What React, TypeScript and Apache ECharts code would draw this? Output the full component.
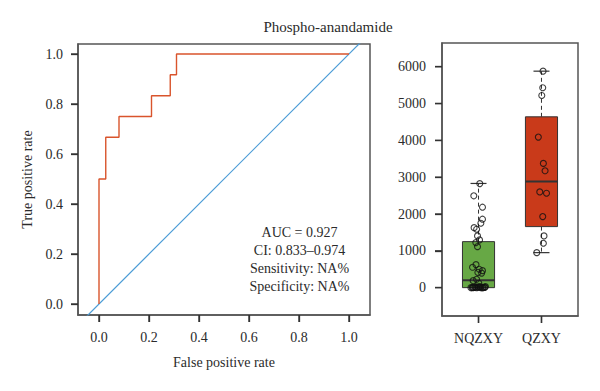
import React, { useEffect, useRef } from 'react';
import * as echarts from 'echarts';

// ROC curve (false positive rate, true positive rate)
const rocFpr = [0, 0, 0.027, 0.027, 0.08, 0.08, 0.21, 0.21, 0.285, 0.285, 0.31, 0.31, 1.0];
const rocTpr = [0, 0.5, 0.5, 0.667, 0.667, 0.75, 0.75, 0.833, 0.833, 0.917, 0.917, 1, 1];
const diagonal = [-1, 2];
const rocTicks = [0, 0.2, 0.4, 0.6, 0.8, 1.0];
const annotation = ['AUC = 0.927', 'CI: 0.833–0.974', 'Sensitivity: NA%', 'Specificity: NA%'];

// Box plot
const groups = ['NQZXY', 'QZXY'];
const boxMin = [0, 951];
const boxQ1 = [0, 1658];
const boxMedian = [200, 2880];
const boxQ3 = [1250, 4640];
const boxMax = [2830, 5880];
const valueTicks = [0, 1000, 2000, 3000, 4000, 5000, 6000];
const groupTicks = [1, 2];

const nqValues = [2826, 2495, 2185, 1859, 1750, 1630, 1587, 1405, 1296, 1223, 1114, 625, 554, 500, 462, 413, 395, 228, 190, 120,
  0, 5, 10, 0, 15, 20, 0, 8, 30, 0, 12, 25, 0, 3, 18, 0, 6];
const nqJitter = [0.02, -0.075, 0.063, 0.063, 0.037, -0.07, -0.03, -0.016, 0.016, -0.043, -0.016, -0.04, -0.095, 0.01, 0.063, -0.01, 0.05, -0.03, -0.085, 0.005,
  -0.12, -0.09, -0.06, -0.03, 0, 0.03, 0.06, 0.09, 0.11, -0.1, -0.05, 0.02, 0.07, -0.08, -0.01, 0.04, 0.1];
const qValues = [5880, 5430, 5220, 4090, 3375, 3175, 2600, 2565, 1930, 1405, 1206, 951];
const qJitter = [0.025, 0.02, 0.005, -0.05, 0.03, 0.057, -0.027, 0.08, 0.02, 0.04, 0.03, -0.075];

const boxColors = ['#67a845', '#c93a1a'];
const textColor = '#2b2b2b';
const font = '"Liberation Serif", "DejaVu Serif", serif';

export default function App() {
  const ref = useRef<HTMLDivElement>(null);
  useEffect(() => {
    if (!ref.current) return;
    const chart = echarts.init(ref.current, undefined, { renderer: 'svg' });
    const tick = { show: true, length: 7, lineStyle: { color: '#333', width: 1.3 } };
    const line = { show: true, onZero: false, lineStyle: { color: '#555', width: 1.5 } };
    const labelCommon = { color: textColor, fontSize: 14, fontFamily: font };
    const boxData = groups.map((_, i) => [i + 1, boxMin[i], boxQ1[i], boxMedian[i], boxQ3[i], boxMax[i]]);
    const pointData = [
      ...nqValues.map((v, i) => [1 + nqJitter[i], v]),
      ...qValues.map((v, i) => [2 + qJitter[i], v]),
    ];
    const textGraphics: any[] = [
      {
        type: 'text',
        style: { text: 'Phospho-anandamide', x: 328, y: 27, fill: textColor, font: `15px ${font}`, textAlign: 'center', textVerticalAlign: 'middle' },
      },
      ...annotation.map((t, i) => ({
        type: 'text',
        style: { text: t, x: 299.5, y: 232 + i * 18.3, fill: textColor, font: `14px ${font}`, textAlign: 'center', textVerticalAlign: 'middle' },
      })),
    ];
    const option: any = {
      animation: false,
      textStyle: { fontFamily: font },
      grid: [
        { left: 78, top: 44, width: 292, height: 271, show: true, borderColor: '#555', borderWidth: 1.5 },
        { left: 442, top: 43, width: 136, height: 273, show: true, borderColor: '#555', borderWidth: 1.5 },
      ],
      xAxis: [
        {
          type: 'value', gridIndex: 0, min: -0.084, max: 1.084, splitLine: { show: false }, axisLine: line,
          axisTick: { ...tick, customValues: rocTicks },
          axisLabel: { ...labelCommon, margin: 15, customValues: rocTicks, formatter: (v: number) => v.toFixed(1) },
          name: 'False positive rate', nameLocation: 'middle', nameGap: 40,
          nameTextStyle: { color: textColor, fontSize: 14, fontFamily: font },
        },
        {
          type: 'value', gridIndex: 1, min: 0.42, max: 2.58, splitLine: { show: false }, axisLine: line,
          axisTick: { ...tick, customValues: groupTicks },
          axisLabel: { ...labelCommon, margin: 15, customValues: groupTicks, formatter: (v: number) => groups[Math.round(v) - 1] },
        },
      ],
      yAxis: [
        {
          type: 'value', gridIndex: 0, min: -0.044, max: 1.04, splitLine: { show: false }, axisLine: line,
          axisTick: { ...tick, customValues: rocTicks },
          axisLabel: { ...labelCommon, margin: 15, customValues: rocTicks, formatter: (v: number) => v.toFixed(1) },
          name: 'True positive rate', nameLocation: 'middle', nameGap: 44, nameRotate: 90,
          nameTextStyle: { color: textColor, fontSize: 14, fontFamily: font },
        },
        {
          type: 'value', gridIndex: 1, min: -770, max: 6645, splitLine: { show: false }, axisLine: line,
          axisTick: { ...tick, customValues: valueTicks },
          axisLabel: { ...labelCommon, margin: 16, customValues: valueTicks, formatter: (v: number) => String(v) },
        },
      ],
      graphic: textGraphics,
      series: [
        {
          type: 'line', xAxisIndex: 0, yAxisIndex: 0, data: diagonal.map((v) => [v, v]),
          showSymbol: false, symbol: 'none', clip: true, lineStyle: { color: '#4b9cd6', width: 1.2 },
        },
        {
          type: 'line', xAxisIndex: 0, yAxisIndex: 0, data: rocFpr.map((f, i) => [f, rocTpr[i]]),
          showSymbol: false, symbol: 'none', clip: true, lineStyle: { color: '#d9542c', width: 1.4 },
        },
        {
          type: 'custom', xAxisIndex: 1, yAxisIndex: 1, data: boxData,
          encode: { x: 0, y: [1, 2, 3, 4, 5] }, z: 2,
          renderItem: (params: any, api: any) => {
            const x = api.value(0);
            const mn = api.value(1), q1 = api.value(2), md = api.value(3), q3 = api.value(4), mx = api.value(5);
            const hw = 0.255, cw = 0.127;
            const tl = api.coord([x - hw, q3]);
            const br = api.coord([x + hw, q1]);
            const c = api.coord([x, md]);
            const top = api.coord([x, mx]);
            const bot = api.coord([x, mn]);
            const capL = api.coord([x - cw, mx])[0];
            const capR = api.coord([x + cw, mx])[0];
            const dashed = { stroke: '#333', lineWidth: 1, lineDash: [4, 3] };
            const solid = { stroke: '#333', lineWidth: 1.2 };
            const ln = (x1: number, y1: number, x2: number, y2: number, style: any) => ({ type: 'line', shape: { x1, y1, x2, y2 }, style });
            return {
              type: 'group',
              children: [
                ln(c[0], tl[1], c[0], top[1], dashed),
                ln(c[0], br[1], c[0], bot[1], dashed),
                ln(capL, top[1], capR, top[1], solid),
                ln(capL, bot[1], capR, bot[1], solid),
                { type: 'rect', shape: { x: tl[0], y: tl[1], width: br[0] - tl[0], height: br[1] - tl[1] }, style: { fill: boxColors[params.dataIndex], stroke: '#333', lineWidth: 1 } },
                ln(tl[0], c[1], br[0], c[1], { stroke: '#333', lineWidth: 2 }),
              ],
            };
          },
        },
        {
          type: 'scatter', xAxisIndex: 1, yAxisIndex: 1, data: pointData, z: 3,
          symbol: 'circle', symbolSize: 6,
          itemStyle: { color: 'rgba(0,0,0,0)', borderColor: '#111', borderWidth: 1.1 },
        },
      ],
    };
    chart.setOption(option);

    // tick marks placed through the axes' own scales
    const tickStyle = { stroke: '#333', lineWidth: 1.4 };
    const tickLines: any[] = [];
    const addTicks = (gridIndex: number, xs: number[], ys: number[], xMin: number, yMin: number) => {
      xs.forEach((t) => {
        const p = chart.convertToPixel({ gridIndex } as any, [t, yMin]) as number[];
        tickLines.push({ type: 'line', z: 100, silent: true, shape: { x1: p[0], y1: p[1], x2: p[0], y2: p[1] + 7 }, style: tickStyle });
      });
      ys.forEach((t) => {
        const p = chart.convertToPixel({ gridIndex } as any, [xMin, t]) as number[];
        tickLines.push({ type: 'line', z: 100, silent: true, shape: { x1: p[0], y1: p[1], x2: p[0] - 7, y2: p[1] }, style: tickStyle });
      });
    };
    addTicks(0, rocTicks, rocTicks, -0.084, -0.044);
    addTicks(1, groupTicks, valueTicks, 0.42, -770);
    chart.setOption({ graphic: [...textGraphics, ...tickLines] });

    return () => chart.dispose();
  }, []);
  return <div ref={ref} style={{ position: 'fixed', left: 0, top: 0, width: 600, height: 391, background: '#fff' }} />;
}
